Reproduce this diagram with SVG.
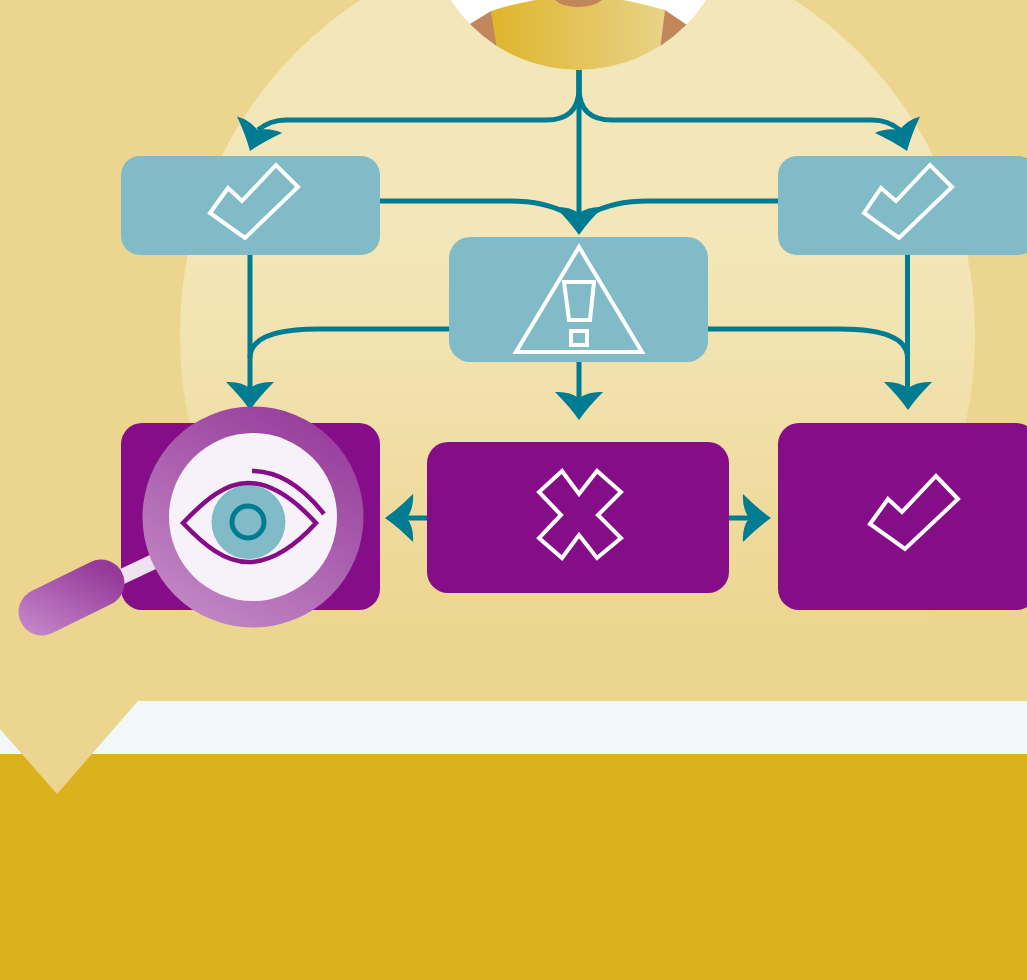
<svg xmlns="http://www.w3.org/2000/svg" width="1027" height="980" viewBox="0 0 1027 980">
<defs>
<linearGradient id="disc" gradientUnits="userSpaceOnUse" x1="0" y1="230" x2="0" y2="640"><stop offset="0" stop-color="#f3e6b8"/><stop offset="0.25" stop-color="#f2e3b2"/><stop offset="1" stop-color="#ecd58e"/></linearGradient>
<linearGradient id="shirt" x1="0" y1="0" x2="1" y2="0"><stop offset="0" stop-color="#dfb52c"/><stop offset="1" stop-color="#e8d387"/></linearGradient>
<linearGradient id="ring" x1="0.2" y1="1" x2="0.8" y2="0"><stop offset="0" stop-color="#c38ac6"/><stop offset="1" stop-color="#953a9a"/></linearGradient>
<linearGradient id="handle" gradientUnits="userSpaceOnUse" x1="45" y1="640" x2="90" y2="560"><stop offset="0" stop-color="#c385c8"/><stop offset="1" stop-color="#953a9a"/></linearGradient>
<clipPath id="portraitClip"><circle cx="578.500" cy="-81" r="151"/></clipPath>
<path id="head" d="M-24-28 Q-10-29 0-22 Q10-29 24-28 Q9-13 0 0 Q-9-13 -24-28Z" fill="#007c92"/>
<style>
.conn{fill:none;stroke:#007c92;stroke-width:5}
.teal{fill:#81bbc7}
.pur{fill:#860d88}
.ic{fill:none;stroke:#fff;stroke-width:4}
.eye{fill:none;stroke:#860d88;stroke-width:4.500}
</style>
</defs>
<rect width="1027" height="980" fill="#f2f8f8"/>
<rect width="1027" height="701" fill="#ecd58e"/>
<rect y="754" width="1027" height="226" fill="#dbb11e"/>
<polygon points="0,729 57,794 138,701 0,690" fill="#ecd58e"/>
<path d="M180 333 A397.500 397.500 0 0 1 975 333 A397.500 397.500 0 0 1 930 520 L930 701 L225 701 L225 520 A397.500 397.500 0 0 1 180 333Z" fill="url(#disc)"/>
<g id="portrait">
<g clip-path="url(#portraitClip)">
<rect x="420" y="0" width="320" height="80" fill="#fff"/>
<path d="M491 11 Q523 1 555 -3 L603 -3 Q635 1 665 10 L660 80 L497 80Z" fill="url(#shirt)"/>
<path d="M465 27 L491 11 L497 50 L465 50Z" fill="#c1875a"/>
<path d="M690 27 L665 10 L660 50 L690 50Z" fill="#c1875a"/>
</g>
<path d="M555 0 L602 0 Q594 7 578 7 Q562 7 555 0Z" fill="#c1875a"/>
</g>
<g id="connectors">
<path class="conn" d="M579 70 V215"/>
<path class="conn" d="M579 70 V90 Q578 120 546 120 H286 Q270 120 258 130"/>
<path class="conn" d="M579 70 V90 Q580 120 612 120 H872 Q888 120 900 130"/>
<path class="conn" d="M380 201 H510 Q545 201 568 214"/>
<path class="conn" d="M778 201 H648 Q613 201 590 214"/>
<path class="conn" d="M250 255 V392"/>
<path class="conn" d="M907.500 255 V392"/>
<path class="conn" d="M449 329 H318 Q250 329 250 358"/>
<path class="conn" d="M708 329 H840 Q907.500 329 907.500 358"/>
<path class="conn" d="M579 361 V402"/>
<path class="conn" d="M428 518 H405"/>
<path class="conn" d="M729 518 H752"/>
<use href="#head" transform="translate(250 151) rotate(20)"/>
<use href="#head" transform="translate(907 151) rotate(-20)"/>
<use href="#head" transform="translate(579 235)"/>
<use href="#head" transform="translate(250 410)"/>
<use href="#head" transform="translate(908 410)"/>
<use href="#head" transform="translate(579 420)"/>
<use href="#head" transform="translate(385 518) rotate(90)"/>
<use href="#head" transform="translate(771 518) rotate(-90)"/>
</g>
<g id="node-check-left">
<rect class="teal" x="121" y="156" width="259" height="99" rx="19"/>
<path class="ic" d="M210 213 L228 188 L242 201 L276 165 L298 187 L245 238Z"/>
</g>
<g id="node-check-right">
<rect class="teal" x="778" y="156" width="259" height="99" rx="19"/>
<path class="ic" d="M864 213 L881 188 L896 201 L930 165 L952 187 L899 238Z"/>
</g>
<g id="node-warning">
<rect class="teal" x="449" y="237" width="259" height="125" rx="21"/>
<path class="ic" d="M579 247 L642 352 H516Z"/>
<path class="ic" d="M564 282 H594 L590 320 H569Z"/>
<rect class="ic" x="571" y="331" width="16" height="14"/>
</g>
<g id="node-cross">
<rect class="pur" x="427" y="442" width="302" height="151" rx="21"/>
<path class="ic" d="M562 471 L579 494 L597 471 L621 492 L598 515 L621 538 L597 558 L579 535 L562 558 L539 538 L561 515 L539 492Z"/>
</g>
<g id="node-check-purple">
<rect class="pur" x="778" y="423" width="259" height="187" rx="21"/>
<path class="ic" d="M870 524 L888 499 L902 512 L936 476 L958 499 L905 549Z"/>
</g>
<g id="node-magnifier">
<rect class="pur" x="121" y="423" width="259" height="187" rx="21"/>
<polygon points="118,570 152,554 158,568 124,584" fill="#efe1f0"/>
<circle cx="253" cy="517" r="110.500" fill="url(#ring)"/>
<circle cx="253" cy="517" r="84" fill="#f7f1f9"/>
<line x1="42" y1="612" x2="101" y2="583" stroke="url(#handle)" stroke-width="47" stroke-linecap="round"/>
<circle cx="248.500" cy="522" r="37" fill="#81bbc7"/>
<circle cx="248" cy="522" r="16" fill="none" stroke="#007c92" stroke-width="5"/>
<path class="eye" d="M183 523 C205 500 225 483 248 483 C272 483 295 500 316 523 C295 546 272 562 248 562 C225 562 205 546 183 523Z"/>
<path class="eye" d="M252 471 C282 471 305 490 324 514"/>
</g>
</svg>
